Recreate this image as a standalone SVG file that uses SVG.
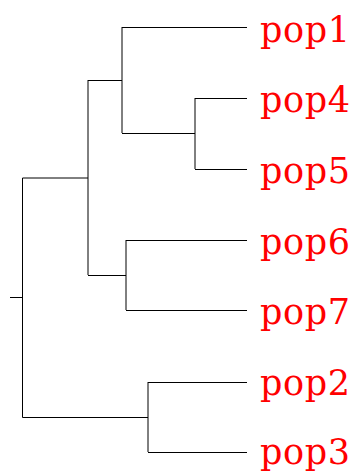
<svg xmlns="http://www.w3.org/2000/svg" width="358" height="472" viewBox="0 0 358 472">
<style>
.e{fill:none;stroke:#000;stroke-width:1;}
.lbl{font-family:"DejaVu Serif","Liberation Serif",serif;font-size:35px;fill:#ff0000;}
</style>
<rect width="358" height="472" fill="#fff"/>
<g id="connectors">
<path class="e" d="M10,297.5H22.5M22.5,178V417.5M22.5,178H88M88,80V275M88,80.5H122M122,27V133M122,27.5H247M122,133.5H195M195,98V169M195,98.5H247M195,169.5H247M88,275.5H126M126,240V310M126,240.5H247M126,310.5H247M22.5,417.5H148M148,382V452M148,382.5H247M148,452.5H247"/>
</g>
<g id="pop1"><text class="lbl" x="260" y="41.5" textLength="90" lengthAdjust="spacing">pop1</text></g>
<g id="pop4"><text class="lbl" x="260" y="112" textLength="90" lengthAdjust="spacing">pop4</text></g>
<g id="pop5"><text class="lbl" x="260" y="183" textLength="90" lengthAdjust="spacing">pop5</text></g>
<g id="pop6"><text class="lbl" x="260" y="253.5" textLength="90" lengthAdjust="spacing">pop6</text></g>
<g id="pop7"><text class="lbl" x="260" y="324" textLength="90" lengthAdjust="spacing">pop7</text></g>
<g id="pop2"><text class="lbl" x="260" y="395" textLength="90" lengthAdjust="spacing">pop2</text></g>
<g id="pop3"><text class="lbl" x="260" y="464" textLength="90" lengthAdjust="spacing">pop3</text></g>
</svg>
